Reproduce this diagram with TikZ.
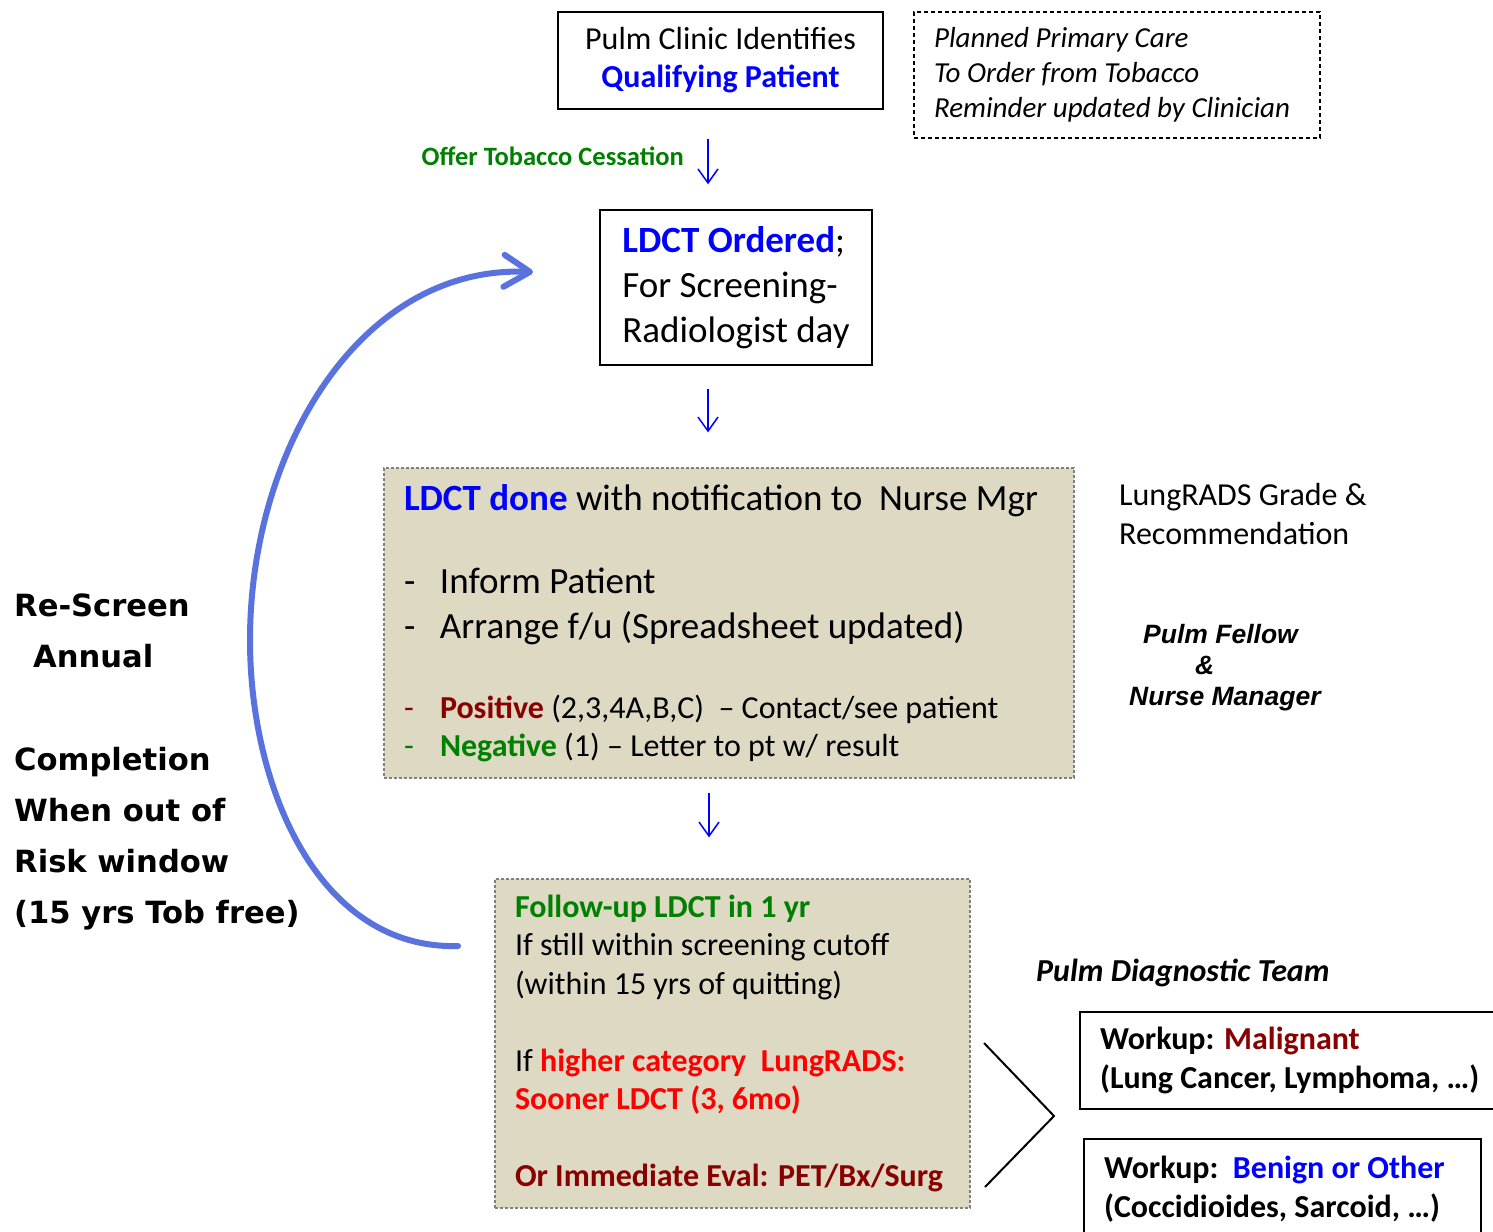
\documentclass[tikz,border=0pt]{standalone}
\usepackage{fontspec}
\setmainfont{Carlito}
\newfontfamily\verdanafont{DejaVu Sans}
\newfontfamily\arialfont{Liberation Sans}
\usepackage{xcolor}
\usetikzlibrary{arrows.meta}
\definecolor{ldblue}{RGB}{0,0,255}
\definecolor{okgreen}{RGB}{0,128,0}
\definecolor{posred}{RGB}{136,0,0}
\definecolor{alertred}{RGB}{255,0,0}
\definecolor{tanfill}{RGB}{221,217,195}
\definecolor{tanedge}{RGB}{128,128,128}
\definecolor{loopblue}{RGB}{90,114,222}
\tikzset{
    plainbox/.style={draw=black, line width=1.5pt, inner sep=0pt},
    notebox/.style={draw=black, line width=1.3pt, dash pattern=on 4pt off 3pt},
    tanbox/.style={draw=tanedge, fill=tanfill, line width=1.3pt, dash pattern=on 3pt off 2pt},
    workbox/.style={draw=black, line width=2pt},
    flowarrow/.style={draw=ldblue, line width=1.5pt, -{Straight Barb[length=14pt,width=20pt]}},
    looparrow/.style={draw=loopblue, line width=6pt, line cap=round, -{Straight Barb[length=26pt,width=32pt,round]}}
}

\begin{document}
\begin{tikzpicture}[x=1pt, y=-1pt]
		\useasboundingbox (0,0) rectangle (1493,1231);

		% ordering
		\node[plainbox, minimum width=325pt, minimum height=97pt, align=center, font=\fontsize{32}{38}\selectfont] (clinic) at (720.5,60.5) {Pulm Clinic Identifies\\\textcolor{ldblue}{\bfseries Qualifying Patient}};
		\node[notebox, minimum width=406pt, minimum height=126pt, text width=366pt, inner xsep=20pt, align=flush left, font=\fontsize{29}{35}\selectfont\itshape] (planned) at (1117,75) {Planned Primary Care\\To Order from Tobacco\\Reminder updated by Clinician};
		\node[anchor=base east, inner sep=0pt, text=okgreen, font=\fontsize{26.5}{32}\selectfont\bfseries] (offer) at (684,165) {Offer Tobacco Cessation};
		\node[plainbox, minimum width=272pt, minimum height=155pt, align=left, font=\fontsize{37}{45}\selectfont] (ordered) at (736,287.5) {\textcolor{ldblue}{\bfseries LDCT Ordered};\\For Screening-\\Radiologist day};
		\draw[flowarrow] ([xshift=-12.5pt, yshift=-29pt]clinic.south) -- ([xshift=-28pt, yshift=25pt]ordered.north);

		% result
		\node[tanbox, minimum width=690pt, minimum height=310pt, text width=650pt, inner xsep=20pt, align=flush left] (done) at (729,623) {%
			{\fontsize{37}{45}\selectfont\textcolor{ldblue}{\bfseries LDCT done} with notification to\ \ Nurse Mgr\par}
			\vspace{38pt}
			{\fontsize{37}{45}\selectfont\makebox[36pt][l]{-}Inform Patient\par
			\makebox[36pt][l]{-}Arrange f/u (Spreadsheet updated)\par}
			\vspace{42pt}
			{\fontsize{32}{38}\selectfont\makebox[36pt][l]{\textcolor{posred}{-}}\textcolor{posred}{\bfseries Positive} (2,3,4A,B,C)\ \ – Contact/see patient\par
			\makebox[36pt][l]{\textcolor{okgreen}{-}}\textcolor{okgreen}{\bfseries Negative} (1) – Letter to pt w/ result\par}};
		\draw[flowarrow] ([xshift=-28pt, yshift=-23pt]ordered.south) -- ([xshift=-21pt, yshift=35pt]done.north);
		\node[anchor=base west, text width=300pt, align=flush left, inner sep=0pt, font=\fontsize{32}{39}\selectfont] (lungrads) at (1119,505) {LungRADS Grade \&\\Recommendation};
		\node[anchor=base west, text width=220pt, align=flush left, inner sep=0pt, font=\arialfont\bfseries\itshape\fontsize{26.5}{31}\selectfont] (fellow) at (1129,643) {\hspace*{14pt}Pulm Fellow\\\hspace*{66pt}\&\\Nurse Manager};

		% follow-up
		\node[tanbox, minimum width=475pt, minimum height=329pt, text width=435pt, inner xsep=20pt, align=flush left, font=\fontsize{32}{38.5}\selectfont] (follow) at (732.5,1043.5) {\textcolor{okgreen}{\bfseries Follow-up LDCT in 1 yr}\\If still within screening cutoff\\(within 15 yrs of quitting)\\[38.5pt]If \textcolor{alertred}{\bfseries higher category\ \ LungRADS:}\\\textcolor{alertred}{\bfseries Sooner LDCT (3, 6mo)}\\[38.5pt]\textcolor{posred}{\bfseries Or Immediate Eval: PET/Bx/Surg}};
		\draw[flowarrow] ([xshift=-20pt, yshift=-14pt]done.south) -- ([xshift=-23.5pt, yshift=41pt]follow.north);

		% diagnostic team
		\node[anchor=base west, inner sep=0pt, font=\fontsize{32}{39}\selectfont\bfseries\itshape] (diagteam) at (1036,981) {Pulm Diagnostic Team};
		\node[workbox, anchor=west, minimum height=97pt, text width=400pt, inner xsep=20pt, align=flush left, font=\fontsize{32}{39}\selectfont\bfseries] (malignant) at (1079,1060.5) {Workup: \textcolor{posred}{Malignant}\\(Lung Cancer, Lymphoma, …)};
		\node[workbox, anchor=west, minimum width=397pt, minimum height=101pt, text width=357pt, inner xsep=20pt, align=flush left, font=\fontsize{32}{39}\selectfont\bfseries] (benign) at (1083,1189.5) {Workup:\ \ \textcolor{ldblue}{Benign or Other}\\(Coccidioides, Sarcoid, …)};
		\coordinate (chevtop) at (984,1043);
		\coordinate (chevtip) at (1054,1116);
		\coordinate (chevbot) at (985,1187);
		\draw[line width=2pt] (chevtop) -- (chevtip) -- (chevbot);

		% re-screen loop
		\node[anchor=base west, text width=320pt, align=flush left, inner sep=0pt, font=\verdanafont\bfseries\fontsize{30.6}{51}\selectfont] (rescreen) at (14,616) {Re-Screen\\\hspace*{19pt}Annual};
		\node[anchor=base west, text width=320pt, align=flush left, inner sep=0pt, font=\verdanafont\bfseries\fontsize{30.6}{51}\selectfont] (completion) at (14,770) {Completion\\When out of\\Risk window\\(15 yrs Tob free)};
		\coordinate (loopstart) at (458,946);
		\coordinate (loopleft) at (250,640);
		\coordinate (loopend) at (533,272);
		\draw[looparrow] (loopstart) .. controls (320,950) and (250,790) .. (loopleft) .. controls (250,450) and (360,265) .. (loopend);
	\end{tikzpicture}
\end{document}
